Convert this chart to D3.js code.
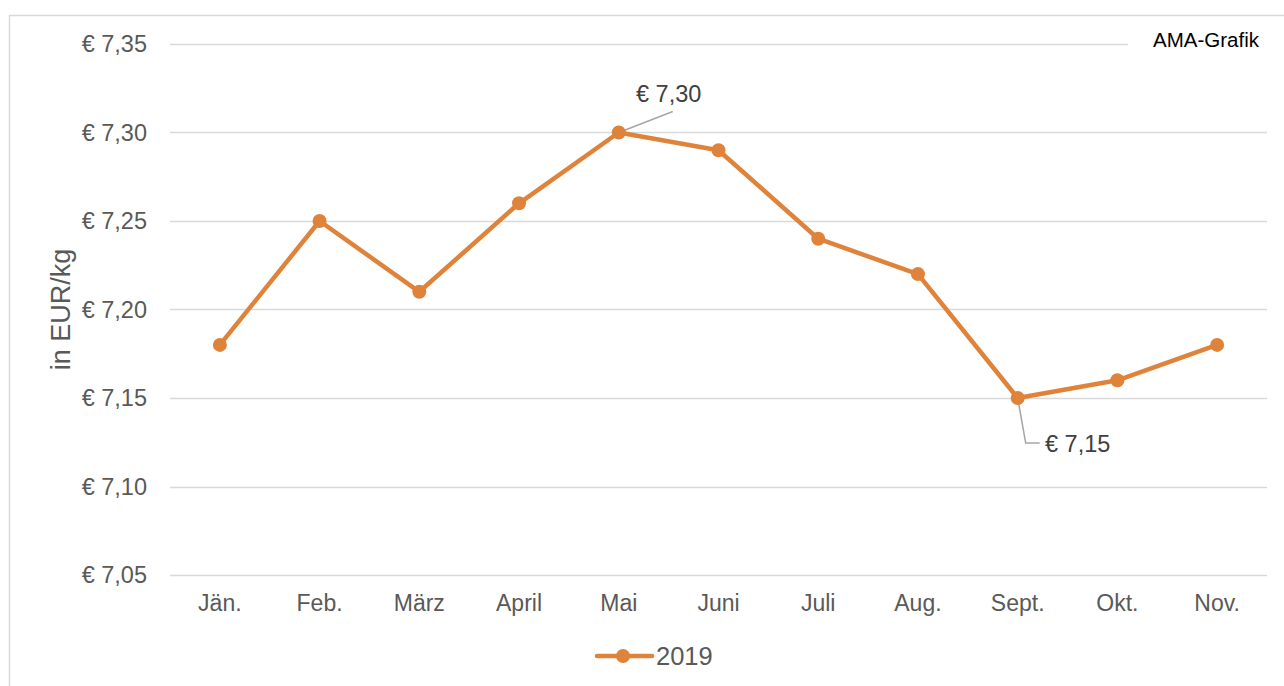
<!DOCTYPE html>
<html>
<head>
<meta charset="utf-8">
<script src="https://cdn.jsdelivr.net/npm/d3@7"></script>
<style>
  body { margin: 0; background: #fff; }
  text { font-family: "Liberation Sans", Arial, sans-serif; }
</style>
</head>
<body>
<div id="chart"></div>
<script>
const months = ["Jän.", "Feb.", "März", "April", "Mai", "Juni", "Juli", "Aug.", "Sept.", "Okt.", "Nov."];
const prices2019 = [7.18, 7.25, 7.21, 7.26, 7.30, 7.29, 7.24, 7.22, 7.15, 7.16, 7.18];
const yTicks = [7.05, 7.10, 7.15, 7.20, 7.25, 7.30, 7.35];
const seriesName = "2019";

const width = 1284;
const height = 686;
const margin = { top: 44, right: 17, bottom: 111, left: 170 };
const orange = "#E0833A";
const grey = "#595959";

const svg = d3.select("#chart").append("svg")
  .attr("width", width)
  .attr("height", height);

// frame
svg.append("rect")
  .attr("x", 9.5).attr("y", 15.5)
  .attr("width", width + 10).attr("height", height + 10)
  .attr("fill", "none").attr("stroke", "#d9d9d9").attr("stroke-width", 1.5);

const x = d3.scaleBand()
  .domain(months)
  .range([margin.left, width - margin.right]);

const y = d3.scaleLinear()
  .domain([7.05, 7.35])
  .range([height - margin.bottom, margin.top]);

const fmt = (v) => "€ " + d3.format(".2f")(v).replace(".", ",");

// gridlines
svg.append("g")
  .selectAll("line")
  .data(yTicks)
  .join("line")
  .attr("x1", margin.left)
  .attr("x2", width - margin.right)
  .attr("y1", (d) => Math.round(y(d)) + 0.5)
  .attr("y2", (d) => Math.round(y(d)) + 0.5)
  .attr("stroke", "#d9d9d9")
  .attr("stroke-width", 1.5);

// y tick labels
svg.append("g")
  .selectAll("text")
  .data(yTicks)
  .join("text")
  .attr("x", 147)
  .attr("y", (d) => y(d))
  .attr("dy", "0.35em")
  .attr("text-anchor", "end")
  .attr("font-size", 23.5)
  .attr("fill", grey)
  .text(fmt);

// x labels
svg.append("g")
  .selectAll("text")
  .data(months)
  .join("text")
  .attr("x", (d) => x(d) + x.bandwidth() / 2)
  .attr("y", 611)
  .attr("text-anchor", "middle")
  .attr("font-size", 23)
  .attr("fill", grey)
  .text((d) => d);

// y axis title
svg.append("text")
  .attr("transform", `translate(70, ${(y(7.05) + y(7.35)) / 2}) rotate(-90)`)
  .attr("text-anchor", "middle")
  .attr("font-size", 27)
  .attr("fill", grey)
  .text("in EUR/kg");

// AMA-Grafik label (masks gridline)
svg.append("rect")
  .attr("x", 1128).attr("y", 28)
  .attr("width", 140).attr("height", 30)
  .attr("fill", "#fff");
svg.append("text")
  .attr("x", 1259).attr("y", 47)
  .attr("text-anchor", "end")
  .attr("font-size", 20.5)
  .attr("fill", "#000")
  .text("AMA-Grafik");

const points = months.map((m, i) => ({ m, v: prices2019[i] }));
const cx = (d) => x(d.m) + x.bandwidth() / 2;

// leader lines
const maxPt = points[4];
const minPt = points[8];
svg.append("line")
  .attr("x1", cx(maxPt)).attr("y1", y(maxPt.v))
  .attr("x2", cx(maxPt) + 54).attr("y2", y(maxPt.v) - 21)
  .attr("stroke", "#a6a6a6").attr("stroke-width", 1.5);
svg.append("polyline")
  .attr("points", [
    [cx(minPt), y(minPt.v)],
    [cx(minPt) + 8, y(minPt.v) + 45],
    [cx(minPt) + 22, y(minPt.v) + 45]
  ].map((p) => p.join(",")).join(" "))
  .attr("fill", "none")
  .attr("stroke", "#a6a6a6").attr("stroke-width", 1.5);

// line
svg.append("path")
  .datum(points)
  .attr("fill", "none")
  .attr("stroke", orange)
  .attr("stroke-width", 4.5)
  .attr("stroke-linejoin", "round")
  .attr("d", d3.line().x(cx).y((d) => y(d.v)));

svg.append("g")
  .selectAll("circle")
  .data(points)
  .join("circle")
  .attr("cx", cx)
  .attr("cy", (d) => y(d.v))
  .attr("r", 7)
  .attr("fill", orange);

// data labels
svg.append("text")
  .attr("x", 636).attr("y", 102)
  .attr("font-size", 23.5)
  .attr("fill", "#404040")
  .text(fmt(maxPt.v));
svg.append("text")
  .attr("x", 1045).attr("y", 452)
  .attr("font-size", 23.5)
  .attr("fill", "#404040")
  .text(fmt(minPt.v));

// legend
const legend = svg.append("g").attr("transform", "translate(597, 656)");
legend.append("line")
  .attr("x1", 0).attr("x2", 55)
  .attr("stroke", orange).attr("stroke-width", 4.5).attr("stroke-linecap", "round");
legend.append("circle").attr("cx", 26).attr("r", 7).attr("fill", orange);
legend.append("text")
  .attr("x", 59).attr("y", 9)
  .attr("font-size", 25.5)
  .attr("fill", grey)
  .text(seriesName);
</script>
</body>
</html>
